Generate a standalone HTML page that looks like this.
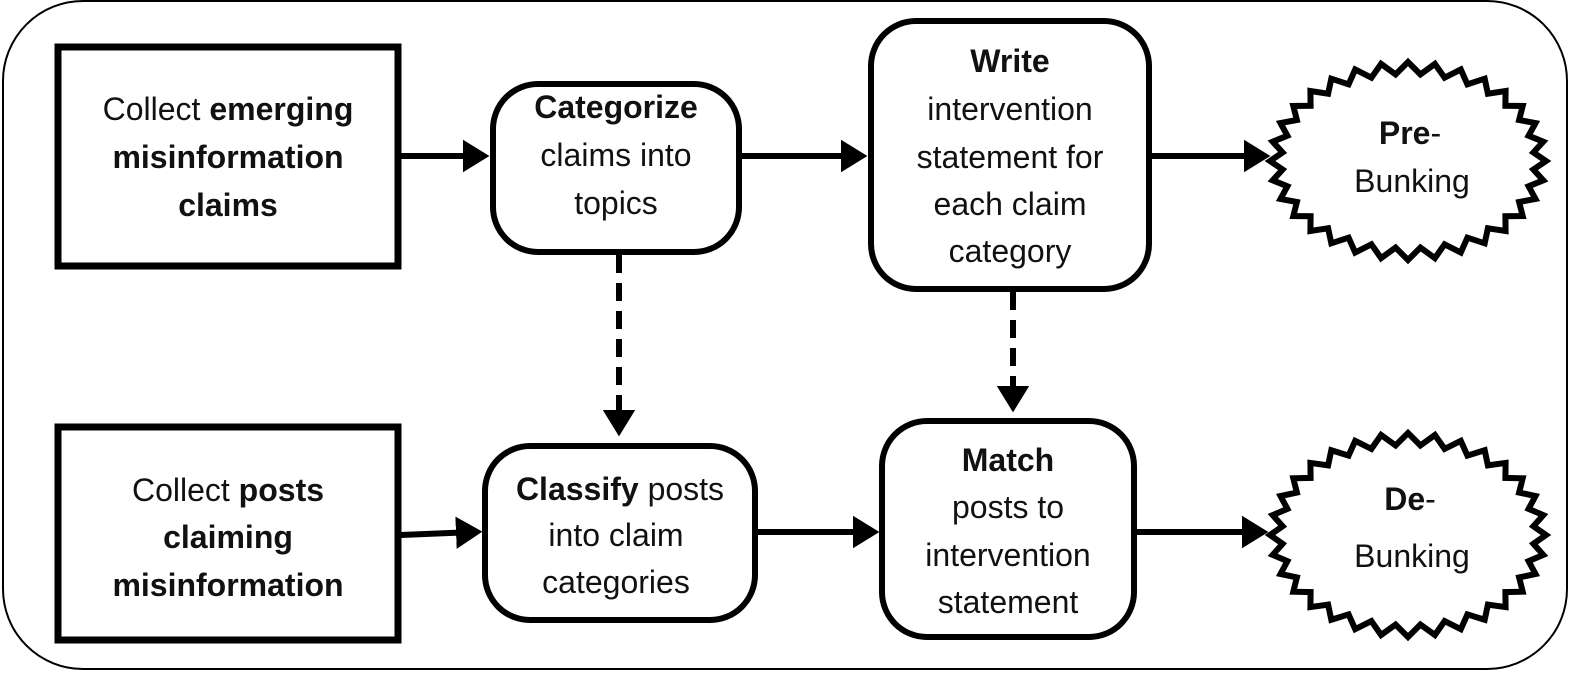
<!DOCTYPE html>
<html><head><meta charset="utf-8"><style>
html,body{margin:0;padding:0;background:#fff;}
svg{display:block;}
text{font-family:"Liberation Sans",sans-serif;font-size:32px;fill:#111;text-anchor:middle;}
.b{font-weight:bold;}
</style></head><body>
<svg id="s" width="1579" height="677" viewBox="0 0 1579 677" xmlns="http://www.w3.org/2000/svg">
<defs>
<marker id="ah" markerWidth="6" markerHeight="6" refX="3" refY="3" orient="auto" markerUnits="strokeWidth">
<path d="M0,0.3 L4.4,3 L0,5.7 Z" fill="#000"/>
</marker>
</defs>
<rect x="3" y="1" width="1564" height="668" rx="80" fill="#fff" stroke="#000" stroke-width="2"/>
<rect x="58" y="47" width="340" height="219" fill="#fff" stroke="#000" stroke-width="7"/>
<rect x="58" y="427" width="340" height="213" fill="#fff" stroke="#000" stroke-width="7"/>
<rect x="493" y="84" width="246" height="168" rx="45" fill="#fff" stroke="#000" stroke-width="6"/>
<rect x="871" y="21" width="278" height="268" rx="45" fill="#fff" stroke="#000" stroke-width="6"/>
<rect x="485" y="446" width="270" height="174" rx="45" fill="#fff" stroke="#000" stroke-width="6"/>
<rect x="882" y="421" width="252" height="216" rx="45" fill="#fff" stroke="#000" stroke-width="6"/>
<polygon id="z1" fill="#fff" stroke="#000" stroke-width="6" stroke-linejoin="miter"/>
<polygon id="z2" fill="#fff" stroke="#000" stroke-width="6" stroke-linejoin="miter"/>
<g stroke="#000" stroke-width="6" fill="none" marker-end="url(#ah)">
<line x1="401" y1="156" x2="481" y2="156"/>
<line x1="742" y1="156" x2="859" y2="156"/>
<line x1="1151" y1="156" x2="1262" y2="156"/>
<line x1="401" y1="535" x2="474" y2="532"/>
<line x1="758" y1="532" x2="871" y2="532"/>
<line x1="1137" y1="532" x2="1260" y2="532"/>
<line x1="619" y1="255" x2="619" y2="428" stroke-dasharray="18,10"/>
<line x1="1013" y1="292" x2="1013" y2="404" stroke-dasharray="18,10"/>
</g>
<text x="228" y="120">Collect <tspan class="b">emerging</tspan></text>
<text x="228" y="168" class="b">misinformation</text>
<text x="228" y="216" class="b">claims</text>
<text x="228" y="501">Collect <tspan class="b">posts</tspan></text>
<text x="228" y="548" class="b">claiming</text>
<text x="228" y="596" class="b">misinformation</text>
<text x="616" y="118" class="b">Categorize</text>
<text x="616" y="166">claims into</text>
<text x="616" y="214">topics</text>
<text x="1010" y="72" class="b">Write</text>
<text x="1010" y="120">intervention</text>
<text x="1010" y="168">statement for</text>
<text x="1010" y="215">each claim</text>
<text x="1010" y="262">category</text>
<text x="620" y="500"><tspan class="b">Classify</tspan> posts</text>
<text x="616" y="546">into claim</text>
<text x="616" y="593">categories</text>
<text x="1008" y="471" class="b">Match</text>
<text x="1008" y="518">posts to</text>
<text x="1008" y="566">intervention</text>
<text x="1008" y="613">statement</text>
<text x="1410" y="144"><tspan class="b">Pre</tspan>-</text>
<text x="1412" y="192">Bunking</text>
<text x="1410" y="510"><tspan class="b">De</tspan>-</text>
<text x="1412" y="567">Bunking</text>
</svg>
<script>
function zz(id,cx,cy,rx,ry,n,d){
  var p=[];
  for(var i=0;i<2*n;i++){
    var a=Math.PI*i/n;
    var k=(i%2==0)?0:d;
    p.push((cx+(rx-k)*Math.cos(a)).toFixed(1)+","+(cy+(ry-k)*Math.sin(a)).toFixed(1));
  }
  document.getElementById(id).setAttribute("points",p.join(" "));
}
zz("z1",1408,161,138,99,32,12);
zz("z2",1408,535,138,102,32,12);
</script>
</body></html>
